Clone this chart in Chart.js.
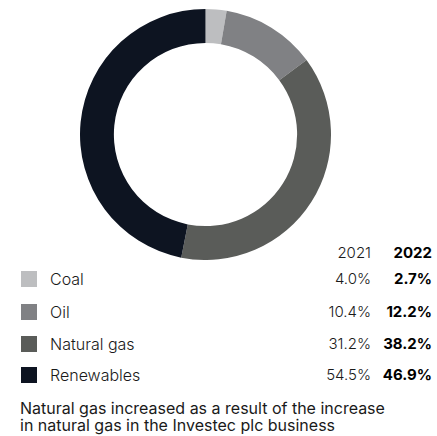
<!DOCTYPE html>
<html>
<head>
<meta charset="utf-8">
<script src="https://cdn.jsdelivr.net/npm/chart.js@4"></script>
<style>
  html, body { margin: 0; padding: 0; background: #fff; }
  body { width: 437px; height: 436px; position: relative; overflow: hidden; font-family: Inter, "Noto Sans", sans-serif; color: #1a1a1a; }
  #wrap { position: absolute; left: 80px; top: 9px; width: 251px; height: 251px; }
  .t { position: absolute; font-size: 15px; line-height: 18px; white-space: nowrap; font-weight: 300; }
  .lbl { font-size: 16px; }
  .sw { position: absolute; width: 16px; height: 16px; }
  .r { text-align: right; }
  .b { font-weight: 700; color: #000; }
  #note { position: absolute; left: 20px; top: 400px; font-size: 16px; line-height: 17px; font-weight: 400; }
</style>
</head>
<body>
<div id="wrap"><canvas id="c" width="251" height="251"></canvas></div>
<div id="legend"></div>
<div id="note">Natural gas increased as a result of the increase<br>in natural gas in the Investec plc business</div>
<script>
const categories = ["Coal", "Oil", "Natural gas", "Renewables"];
const values2022 = [2.7, 12.2, 38.2, 46.9];
const values2021 = [4.0, 10.4, 31.2, 54.5];
const yearLabels = ["2021", "2022"];
const colors = ["#bdbec0", "#808184", "#5a5c59", "#0d1421"];

new Chart(document.getElementById("c"), {
  type: "doughnut",
  data: {
    labels: categories,
    datasets: [{ data: values2022, backgroundColor: colors, borderWidth: 0 }]
  },
  options: {
    responsive: false,
    animation: false,
    cutout: "73%",
    layout: { padding: 0 },
    plugins: { legend: { display: false }, tooltip: { enabled: false } }
  }
});

const leg = document.getElementById("legend");
function add(html, cls, style) {
  const d = document.createElement("div");
  d.className = cls;
  d.setAttribute("style", style);
  d.innerHTML = html;
  leg.appendChild(d);
}
add(yearLabels[0], "t r", "right:66px;top:244px;");
add(yearLabels[1], "t r b", "right:5px;top:244px;");
const rowY = [279, 312, 344, 375];
categories.forEach((c, i) => {
  const y = rowY[i];
  add("", "sw", "left:21px;top:" + (y - 8) + "px;background:" + colors[i] + ";");
  add(c, "t lbl", "left:50px;top:" + (y - 9) + "px;");
  add(values2021[i].toFixed(1) + "%", "t r", "right:66px;top:" + (y - 9) + "px;");
  add(values2022[i].toFixed(1) + "%", "t r b", "right:5px;top:" + (y - 9) + "px;");
});
</script>
</body>
</html>
